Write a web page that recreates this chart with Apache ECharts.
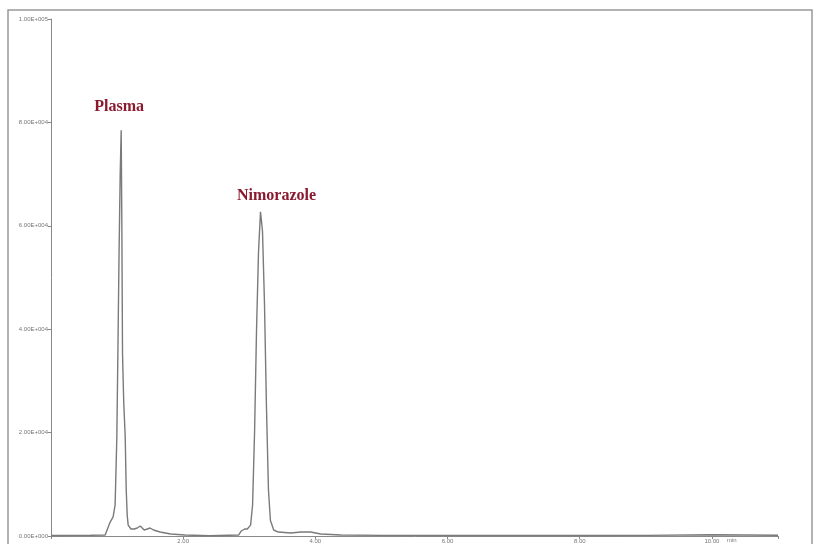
<!DOCTYPE html>
<html><head><meta charset="utf-8">
<script src="https://cdn.jsdelivr.net/npm/echarts@6/dist/echarts.min.js"></script>
<style>html,body{margin:0;padding:0;background:#fff}#c{width:814px;height:544px}</style>
</head><body><div id="c"></div>
<script>
// retention time (min) and detector response
const times = [0, 0.3, 0.6, 0.82, 0.85, 0.895, 0.94, 0.97, 0.996, 1.012, 1.03, 1.047, 1.062, 1.072, 1.082, 1.1, 1.123, 1.138, 1.153, 1.168, 1.21, 1.26, 1.305, 1.35, 1.38, 1.41, 1.457, 1.5, 1.55, 1.65, 1.81, 2.03, 2.4, 2.84, 2.88, 2.93, 2.97, 3.02, 3.05, 3.08, 3.11, 3.14, 3.17, 3.2, 3.23, 3.26, 3.29, 3.32, 3.37, 3.44, 3.63, 3.78, 3.93, 4.08, 4.39, 5.0, 6.0, 7.0, 8.0, 9.0, 10.0, 10.5, 11.0];
const response = [100, 120, 150, 200, 1200, 2700, 3700, 6000, 19100, 35400, 55000, 70000, 78500, 60000, 35400, 26000, 19100, 9000, 4000, 2100, 1350, 1350, 1550, 1930, 1550, 1160, 1350, 1550, 1160, 770, 390, 190, 60, 200, 970, 1350, 1350, 2100, 6000, 20000, 40000, 55000, 62700, 59000, 45000, 25000, 9000, 3000, 1160, 770, 580, 770, 770, 390, 190, 120, 100, 100, 110, 130, 250, 200, 150];
const yTicks = [0, 20000, 40000, 60000, 80000, 100000];
const yTickLabels = ["0.00E+000", "2.00E+004", "4.00E+004", "6.00E+004", "8.00E+004", "1.00E+005"];
const xTickLabels = {2: "2.00", 4: "4.00", 6: "6.00", 8: "8.00", 10: "10.00"};
const peakNames = ["Plasma", "Nimorazole"];
const peakTimes = [1.062, 3.17];
const peakHeights = [78500, 62700];

const chart = echarts.init(document.getElementById('c'));
const pts = times.map((t, i) => [t, response[i]]);
chart.setOption({
  animation: false,
  backgroundColor: '#fff',
  grid: {left: 51, right: 36, top: 19, bottom: 8, containLabel: false},
  xAxis: {
    type: 'value', min: 0, max: 11, interval: 2,
    axisLine: {lineStyle: {color: '#888', width: 1}},
    axisTick: {show: true, length: 3, lineStyle: {color: '#888'}},
    axisLabel: {fontSize: 6, color: '#777', margin: 2,
      formatter: v => xTickLabels[v] || ''},
    splitLine: {show: false}
  },
  yAxis: {
    type: 'value', min: 0, max: 100000, interval: 20000,
    axisLine: {show: true, lineStyle: {color: '#888', width: 1}},
    axisTick: {show: true, length: 3, lineStyle: {color: '#888'}},
    axisLabel: {fontSize: 6, color: '#777', margin: 3,
      formatter: v => yTickLabels[yTicks.indexOf(v)] || ''},
    splitLine: {show: false}
  },
  graphic: [
    {type: 'rect', shape: {x: 8, y: 10, width: 804, height: 540},
     style: {fill: 'none', stroke: '#999', lineWidth: 1.5}, silent: true},
    {type: 'text', left: 727, top: 537, style: {text: 'min', fontSize: 6, fill: '#777'}}
  ],
  series: [{
    type: 'line', data: pts, showSymbol: false, smooth: false,
    lineStyle: {color: '#7a7a7a', width: 1.4},
    markPoint: {
      symbol: 'circle', symbolSize: 0,
      data: peakNames.map((n, i) => ({
        coord: [peakTimes[i], peakHeights[i]], name: n,
        label: {show: true, formatter: n, position: 'top',
          distance: i === 0 ? 15 : 8, offset: i === 0 ? [-2, 0] : [16, 0],
          fontFamily: 'Liberation Serif', fontWeight: 'bold', fontSize: 16, color: '#8b1a2e'}
      }))
    }
  }]
});
</script></body></html>
